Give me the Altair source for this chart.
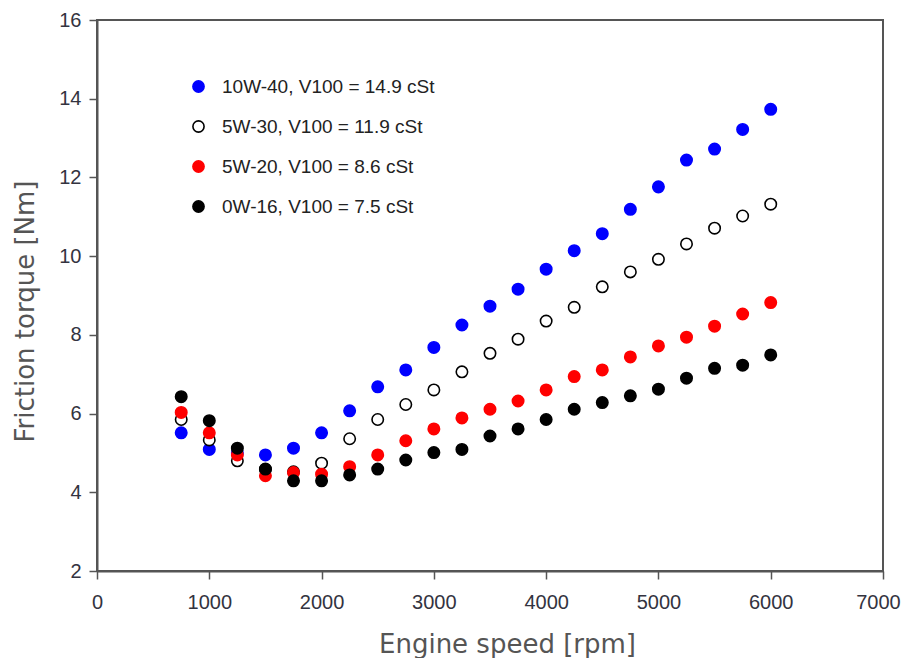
import altair as alt
import pandas as pd

rpm = [750, 1000, 1250, 1500, 1750, 2000, 2250, 2500, 2750, 3000, 3250,
       3500, 3750, 4000, 4250, 4500, 4750, 5000, 5250, 5500, 5750, 6000]

oil_labels = ["10W-40, V100 = 14.9 cSt", "5W-30, V100 = 11.9 cSt",
              "5W-20, V100 = 8.6 cSt", "0W-16, V100 = 7.5 cSt"]

torque_10w40 = [5.51, 5.09, 5.00, 4.95, 5.12, 5.51, 6.07, 6.68, 7.11, 7.68, 8.25,
                8.73, 9.16, 9.67, 10.14, 10.57, 11.19, 11.76, 12.44, 12.72, 13.22, 13.73]
torque_5w30 = [5.85, 5.33, 4.80, 4.58, 4.52, 4.74, 5.36, 5.85, 6.23, 6.60, 7.06,
               7.53, 7.89, 8.35, 8.70, 9.22, 9.60, 9.92, 10.31, 10.71, 11.02, 11.32]
torque_5w20 = [6.03, 5.51, 4.95, 4.42, 4.50, 4.46, 4.65, 4.95, 5.31, 5.61, 5.89,
               6.11, 6.32, 6.60, 6.94, 7.11, 7.44, 7.72, 7.94, 8.22, 8.53, 8.82]
torque_0w16 = [6.43, 5.82, 5.12, 4.59, 4.29, 4.29, 4.44, 4.59, 4.82, 5.01, 5.09,
               5.43, 5.61, 5.85, 6.11, 6.28, 6.45, 6.62, 6.90, 7.15, 7.23, 7.49]

fill_colors = ["#0000ff", "#ffffff", "#ff0000", "#000000"]
stroke_colors = ["#0000ff", "#000000", "#ff0000", "#000000"]

series = [torque_10w40, torque_5w30, torque_5w20, torque_0w16]
rows = []
for label, vals in zip(oil_labels, series):
    for r, v in zip(rpm, vals):
        rows.append({"oil": label, "rpm": r, "torque": v})
df = pd.DataFrame(rows)

TICK_FONT = "Liberation Sans"
TITLE_FONT = "DejaVu Sans"

chart = alt.Chart(df).mark_point(
    shape="circle", filled=False, size=130, strokeWidth=1.6, opacity=1
).encode(
    x=alt.X("rpm:Q",
            scale=alt.Scale(domain=[0, 7000], nice=False, zero=False),
            axis=alt.Axis(values=[0, 1000, 2000, 3000, 4000, 5000, 6000, 7000],
                          format="d", title="Engine speed [rpm]",
                          titleX=410, titleY=81, titleBaseline="alphabetic",
                          titleAnchor="middle", labelPadding=13, labelFlush=False,
                          labelOffset={"condition": {"test": "datum.value == 7000",
                                                     "value": -5},
                                       "value": 0})),
    y=alt.Y("torque:Q",
            scale=alt.Scale(domain=[2, 16], nice=False, zero=False),
            axis=alt.Axis(values=[2, 4, 6, 8, 10, 12, 14, 16],
                          title="Friction torque [Nm]",
                          titleX=-64, titleY=291, titleBaseline="alphabetic",
                          titleAngle=-90, titleAlign="center", labelPadding=8,
                          labelFlush=False)),
    fill=alt.Fill("oil:N", scale=alt.Scale(domain=oil_labels, range=fill_colors),
                  legend=alt.Legend(title=None)),
    stroke=alt.Stroke("oil:N", scale=alt.Scale(domain=oil_labels, range=stroke_colors),
                      legend=alt.Legend(title=None)),
).properties(
    width=786, height=551,
    padding={"left": 89, "top": 12, "right": 18, "bottom": 87},
    autosize=alt.AutoSizeParams(type="none"),
).configure_view(
    stroke="#555555", strokeWidth=2
).configure_axis(
    grid=False, domainColor="#555555", domainWidth=2, tickColor="#555555",
    tickWidth=1.5, tickSize=8, labelFont=TICK_FONT, labelFontSize=20,
    labelColor="#333340", titleFont=TITLE_FONT, titleFontSize=26,
    titleFontWeight="normal", titleColor="#555555"
).configure_legend(
    orient="none", legendX=92, legendY=57, padding=0, rowPadding=20,
    symbolType="circle", symbolSize=125, symbolStrokeWidth=1.6, labelOffset=14,
    labelFont=TICK_FONT, labelFontSize=19, labelColor="#222222",
    labelLimit=400
)

chart.save("out.html", embed_options={"renderer": "svg", "actions": False})
